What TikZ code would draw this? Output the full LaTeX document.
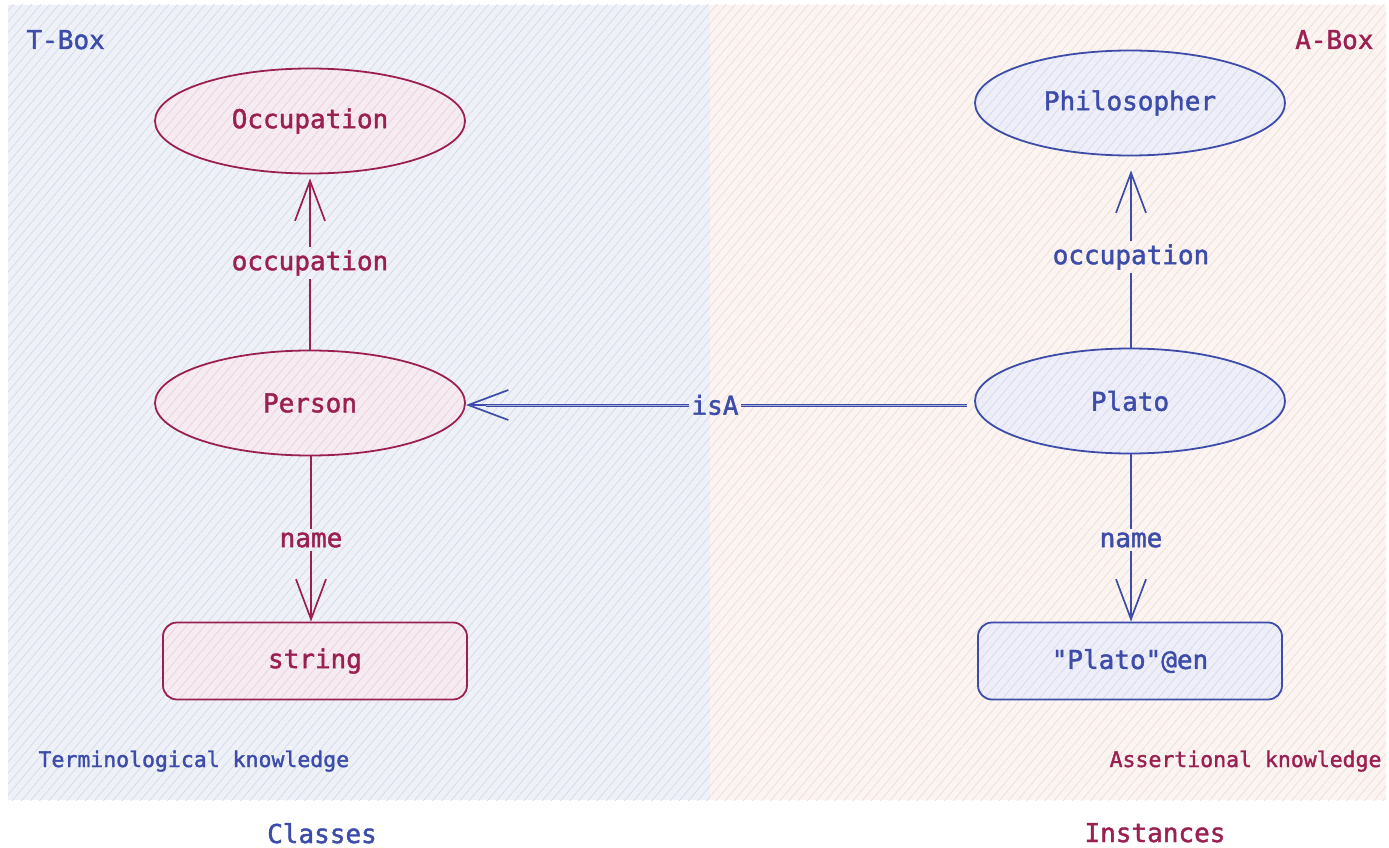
\documentclass[tikz,border=0pt]{standalone}
\usepackage{fontspec}
\setmonofont{DejaVu Sans Mono}[FakeBold=1.6]
\usetikzlibrary{shapes.geometric,arrows.meta,patterns.meta}

\definecolor{kred}{RGB}{155,32,82}
\definecolor{kblue}{RGB}{60,76,168}
\definecolor{tbg}{RGB}{239,241,248}
\definecolor{thatch}{RGB}{214,218,232}
\definecolor{abg}{RGB}{251,244,241}
\definecolor{ahatch}{RGB}{237,222,218}
\definecolor{redfill}{RGB}{247,235,242}
\definecolor{redhatch}{RGB}{232,210,222}
\definecolor{bluefill}{RGB}{238,238,249}
\definecolor{bluehatch}{RGB}{214,216,236}

\tikzset{
  big/.style={font=\ttfamily\fontsize{26}{28}\selectfont},
  small/.style={font=\ttfamily\fontsize{21.5}{24}\selectfont},
  hatch/.style={pattern={Lines[angle=50,distance=7pt,line width=0.7pt]}, pattern color=#1},
  ellnode/.style={ellipse, draw=#1, line width=1.8pt, minimum width=310pt,
    minimum height=105pt, inner sep=0pt, text=#1, big},
  boxnode/.style={rectangle, rounded corners=14pt, draw=#1, line width=1.8pt,
    minimum width=304pt, minimum height=77pt, inner sep=0pt, text=#1, big},
  redfilled/.style={preaction={fill=redfill}, hatch=redhatch},
  bluefilled/.style={preaction={fill=bluefill}, hatch=bluehatch},
  elabel/.style={big, text=#1, inner sep=3pt},
  conn/.style={draw=#1, line width=1.7pt},
  tip/.style={-{Straight Barb[length=40pt,width=30pt,line width=1.7pt]}},
  isaline/.style={draw=kblue, line width=1pt, double=kblue!45, double distance=1pt},
}

\begin{document}
\begin{tikzpicture}[x=1pt,y=-1pt]
  \useasboundingbox (0,0) rectangle (1389,848);
  \fill[white] (0,0) rectangle (1389,848);

  % two hatched panels
  \fill[tbg] (8,5) rectangle (710,800);
  \fill[hatch=thatch] (8,5) rectangle (710,800);
  \fill[abg] (710,5) rectangle (1386,800);
  \fill[hatch=ahatch] (710,5) rectangle (1386,800);

  % panel titles and captions
  \node[big, text=kblue, anchor=base west] (tbox) at (23,49) {T-Box};
  \node[big, text=kred, anchor=base east] (abox) at (1377,49) {A-Box};
  \node[small, text=kblue, anchor=base west] (termk) at (35,767) {Terminological knowledge};
  \node[small, text=kred, anchor=base east] (assk) at (1385,767) {Assertional knowledge};
  \node[big, text=kblue, anchor=base] (classes) at (322,843) {Classes};
  \node[big, text=kred, anchor=base] (instances) at (1155,842) {Instances};

  % T-Box nodes
  \node[ellnode=kred, redfilled] (occupation) at (310,121) {Occupation};
  \node[ellnode=kred, redfilled] (person) at (310,403) {Person};
  \node[boxnode=kred, redfilled] (string) at (315,661) {string};

  % A-Box nodes
  \node[ellnode=kblue, bluefilled] (philosopher) at (1130,103) {Philosopher};
  \node[ellnode=kblue, bluefilled] (plato) at (1130,401) {Plato};
  \node[boxnode=kblue, bluefilled] (platoen) at (1130,661) {"Plato"@en};

  % edge labels
  \node[elabel=kred] (occl) at (310,263) {occupation};
  \node[elabel=kred] (namel) at (311,540) {name};
  \node[elabel=kblue] (occr) at (1131,257) {occupation};
  \node[elabel=kblue] (namer) at (1131,540) {name};
  \node[elabel=kblue, inner sep=2pt] (isa) at (715,405) {isA};

  % T-Box connectors
  \draw[conn=kred] (occl.south |- person.north) -- (occl.south);
  \draw[conn=kred, tip, shorten >=4pt] (occl.north) -- (occl.north |- occupation.south);
  \draw[conn=kred] (namel.north |- person.south) -- (namel.north);
  \draw[conn=kred, tip] (namel.south) -- (namel.south |- string.north);

  % A-Box connectors
  \draw[conn=kblue] (occr.south |- plato.north) -- (occr.south);
  \draw[conn=kblue, tip, shorten >=14pt] (occr.north) -- (occr.north |- philosopher.south);
  \draw[conn=kblue] (namer.north |- plato.south) -- (namer.north);
  \draw[conn=kblue, tip] (namer.south) -- (namer.south |- platoen.north);

  % instance-of link between the boxes
  \draw[isaline, shorten <=7pt] (plato.west |- isa.east) -- (isa.east);
  \draw[isaline] (isa.west) -- ([xshift=20pt]person.east |- isa.west);
  \draw[conn=kblue, tip] ([xshift=20pt]person.east |- isa.west) -- (person.east |- isa.west);
\end{tikzpicture}
\end{document}
